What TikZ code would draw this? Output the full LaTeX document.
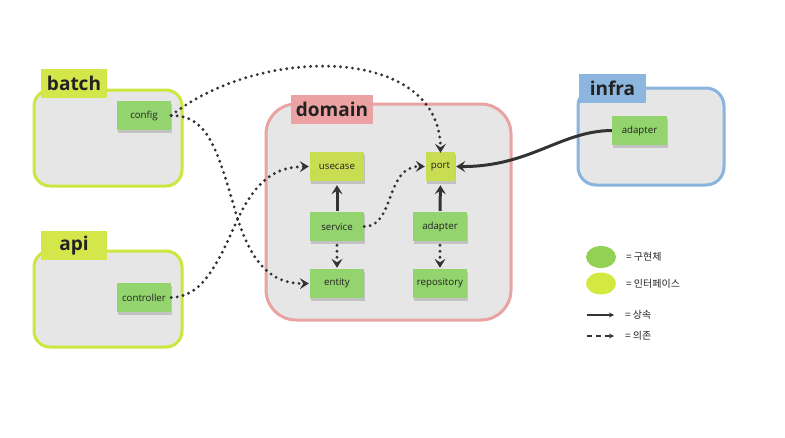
\documentclass[tikz,border=0pt]{standalone}
\usepackage{fontspec}
\setmainfont{Open Sans}
\newfontfamily\krfont{Noto Sans CJK KR}
\usetikzlibrary{arrows.meta,shadows,shapes.geometric}
\definecolor{boxfill}{HTML}{E6E6E6}
\definecolor{limeb}{HTML}{CDE53E}
\definecolor{limelbl}{HTML}{D3E64A}
\definecolor{pinkb}{HTML}{E9A3A3}
\definecolor{pinklbl}{HTML}{ECA2A2}
\definecolor{blueb}{HTML}{88B4DD}
\definecolor{bluelbl}{HTML}{8DB6DF}
\definecolor{implc}{HTML}{93D46E}
\definecolor{intfc}{HTML}{C9DD52}
\definecolor{legimpl}{HTML}{93D155}
\definecolor{legintf}{HTML}{D4E842}
\definecolor{ink}{HTML}{333333}
\definecolor{txt}{HTML}{222222}
\begin{document}
\begin{tikzpicture}[x=1pt,y=-1pt,
  box/.style={line width=3pt, fill=boxfill, rounded corners=#1},
  box/.default=16pt,
  lbl/.style={inner sep=0pt, minimum height=29pt, text=txt, font=\fontsize{19}{22}\selectfont\bfseries},
  note/.style={inner sep=0pt, minimum height=29pt, minimum width=54pt, text=txt,
     font=\fontsize{9.7}{11}\selectfont,
     drop shadow={shadow xshift=1pt, shadow yshift=-3pt, opacity=0.2, fill=black!80}},
  impl/.style={note, fill=implc},
  intf/.style={note, fill=intfc},
  tip/.style={-{Stealth[length=9pt,width=11pt,inset=3.5pt]}},
  solidarrow/.style={tip, draw=ink, line width=3pt},
  dotarrow/.style={tip, draw=ink, line width=3.2pt, line cap=round, dash pattern=on 0pt off 6pt},
  legtxt/.style={anchor=west, inner sep=0pt, text=txt, font=\krfont\fontsize{10}{12}\selectfont}
]
\useasboundingbox (0,0) rectangle (785,437);

% containers
\draw[box, draw=limeb] (34,90) rectangle (182,186);
\draw[box, draw=limeb] (34,251) rectangle (182,347);
\draw[box=30pt, draw=pinkb] (266,104) rectangle (511,320);
\draw[box=18pt, draw=blueb] (578,88) rectangle (724,185);

% container labels
\node[lbl, fill=limelbl, minimum width=66pt] (batchlbl) at (74,83.5) {batch};
\node[lbl, fill=limelbl, minimum width=66pt] (apilbl) at (74,245.5) {api};
\node[lbl, fill=pinklbl, minimum width=82pt] (domainlbl) at (332,109) {domain};
\node[lbl, fill=bluelbl, minimum width=67pt] (infralbl) at (612.5,88.5) {infra};

% notes
\node[impl] (config) at (144,115.5) {config};
\node[impl] (controller) at (144,297.5) {controller};
\node[intf] (usecase) at (337,166.5) {usecase};
\node[intf, minimum width=29pt] (port) at (440.5,166.5) {port};
\node[impl] (service) at (337,226.5) {service};
\node[impl] (dadapter) at (440,226.5) {adapter};
\node[impl] (entity) at (337,283.5) {entity};
\node[impl] (repository) at (440,283.5) {repository};
\node[impl, minimum width=55pt] (iadapter) at (639.5,130.5) {adapter};

% connectors
\draw[dotarrow] (config.east) .. controls (260,45) and (440,45) .. ([yshift=-1pt]port.north);
\draw[dotarrow] (config.east) .. controls (205,116) and (215,140) .. (235,210)
   .. controls (250,262) and (270,284) .. ([xshift=-1pt]entity.west);
\draw[dotarrow] (controller.east) .. controls (200,297) and (215,270) .. (235,225)
   .. controls (255,180) and (275,167) .. ([xshift=-1pt]usecase.west);
\draw[dotarrow] (service.east) .. controls (395,227) and (385,166) .. ([xshift=-1pt]port.west);
\draw[solidarrow, shorten >=4pt] ([yshift=1pt]service.north) -- (usecase.south);
\draw[solidarrow, shorten >=4pt] ([yshift=1pt]dadapter.north) -- (port.south);
\draw[dotarrow, shorten <=4pt, shorten >=1pt] (service.south) -- (entity.north);
\draw[dotarrow, shorten <=4pt, shorten >=1pt] (dadapter.south) -- (repository.north);
\draw[solidarrow] (iadapter.west) .. controls (560,131) and (530,167) .. ([xshift=1pt]port.east);

% legend
\node[ellipse, fill=legimpl, minimum width=30pt, minimum height=22pt, inner sep=0pt] (legimplshape) at (601,257) {};
\node[ellipse, fill=legintf, minimum width=30pt, minimum height=22pt, inner sep=0pt] (legintfshape) at (601,283.5) {};
\node[legtxt] (legimpltxt) at (626,257) {= 구현체};
\node[legtxt] (legintftxt) at (626,283.5) {= 인터페이스};
\coordinate (ls1) at (587,315);
\coordinate (ls2) at (614,315);
\coordinate (ld1) at (587,336);
\coordinate (ld2) at (614,336);
\draw[draw=ink, line width=1.3pt, -{Stealth[length=5pt,width=5pt]}] (ls1) -- (ls2);
\draw[draw=ink, line width=1.3pt, dash pattern=on 5pt off 4pt, -{Stealth[length=5pt,width=5pt]}] (ld1) -- (ld2);
\node[legtxt] (legsolidtxt) at (625,315) {= 상속};
\node[legtxt] (legdashtxt) at (625,336) {= 의존};
\end{tikzpicture}
\end{document}
